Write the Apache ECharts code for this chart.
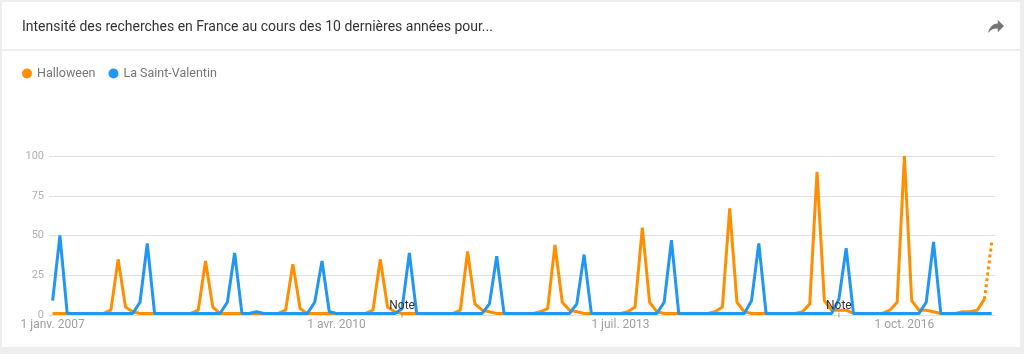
<!DOCTYPE html>
<html><head><meta charset="utf-8">
<script src="https://cdn.jsdelivr.net/npm/echarts@6/dist/echarts.min.js"></script>
<style>html,body{margin:0;padding:0;background:#ffffff;} #c{width:1024px;height:354px;}</style>
</head><body><div id="c"></div>
<script>
// ---- data ----
const monthNames = ['janv.','févr.','mars','avr.','mai','juin','juil.','août','sept.','oct.','nov.','déc.'];
const startYear = 2007;
const halloween = [
  1,1,1,1,1,1,1,1,3,35,5,2,
  1,1,1,1,1,1,1,1,3,34,5,1,
  1,1,1,1,1,1,1,1,3,32,4,1,
  1,1,1,1,1,1,1,1,3,35,5,2,
  1,1,1,1,1,1,1,1,3,40,7,3,
  2,1,1,1,1,1,1,2,4,44,8,3,
  2,1,1,1,1,1,1,2,5,55,8,2,
  1,1,1,1,1,1,1,2,5,67,8,2,
  1,1,1,1,1,1,1,2,7,90,9,3,
  3,3,1,1,1,1,1,3,8,100,9,3,
  3,2,1,1,1,2,2,3,10,46
];
const saintValentin = [
  9,50,1,1,1,1,1,1,1,1,1,1,
  8,45,1,1,1,1,1,1,1,1,1,1,
  8,39,1,1,2,1,1,1,1,1,1,1,
  8,34,2,1,1,1,1,1,1,1,1,1,
  4,39,1,1,1,1,1,1,1,1,1,1,
  7,37,1,1,1,1,1,1,1,1,1,1,
  7,38,1,1,1,1,1,1,1,1,1,1,
  8,47,1,1,1,1,1,1,1,1,1,1,
  9,45,1,1,1,1,1,1,1,1,1,1,
  10,42,1,1,1,1,1,1,1,1,1,1,
  8,46,1,1,1,1,1,1,1,1
];
const xTickLabels = ['1 janv. 2007','1 avr. 2010','1 juil. 2013','1 oct. 2016'];
const noteDates = ['1 janv. 2011','1 janv. 2016'];
const seriesNames = ['Halloween','La Saint-Valentin'];
const colors = ['#FF8F00','#2196F3'];

const categories = halloween.map((_, i) =>
  '1 ' + monthNames[i % 12] + ' ' + (startYear + Math.floor(i / 12)));
const last = halloween.length - 1;
const hallSolid = halloween.map((v, i) => i < last ? v : null);
const hallPartial = halloween.map((v, i) => i >= last - 1 ? v : null);

// share icon outline (24px icon units), scaled into the header
const iconPts = [[14,9],[14,5],[21,12],[14,19],[14,14.9],[10,15.1],[6.5,16.6],[3,20],[4.4,15.6],[7.3,11.6],[10.3,9.6],[14,9]];
const iconShape = iconPts.map(p => [988 + (p[0] - 3) * 16 / 18, 20 + (p[1] - 5) * 13 / 15]);

const chart = echarts.init(document.getElementById('c'), null, {renderer: 'canvas'});
const font = 'Roboto, "Noto Sans", sans-serif';
chart.setOption({
  animation: false,
  backgroundColor: '#ffffff',
  textStyle: {fontFamily: font},
  title: {
    text: 'Intensité des recherches en France au cours des 10 dernières années pour...',
    left: 22, top: 18, padding: 0,
    textStyle: {fontSize: 14, fontWeight: 'normal', color: '#333333', fontFamily: font, lineHeight: 18}
  },
  legend: {
    left: 22, top: 67, padding: 0, itemWidth: 10, itemHeight: 10, itemGap: 13,
    icon: 'circle',
    data: seriesNames,
    textStyle: {fontSize: 12.5, color: '#757575', fontFamily: font}
  },
  graphic: [
    {type: 'rect', shape: {x: 0, y: 0, width: 1024, height: 2}, style: {fill: '#eeeeee'}, silent: true},
    {type: 'rect', shape: {x: 0, y: 0, width: 2, height: 354}, style: {fill: '#eeeeee'}, silent: true},
    {type: 'rect', shape: {x: 1020, y: 0, width: 4, height: 354}, style: {fill: '#eeeeee'}, silent: true},
    {type: 'rect', shape: {x: 0, y: 347, width: 1024, height: 7}, style: {fill: '#eeeeee'}, silent: true},
    {type: 'rect', shape: {x: 0, y: 49, width: 1024, height: 2}, style: {fill: '#eeeeee'}, silent: true},
    {type: 'polygon', shape: {points: iconShape}, style: {fill: '#757575'}, silent: true}
  ],
  grid: {left: 49, right: 28.6, top: 156, bottom: 39, containLabel: false},
  xAxis: {
    type: 'category', data: categories, boundaryGap: true,
    axisLine: {show: false}, axisTick: {show: false},
    axisLabel: {
      interval: (i, v) => xTickLabels.indexOf(v) >= 0,
      color: '#9e9e9e', fontSize: 12, margin: 4, fontFamily: font
    },
    splitLine: {show: false}
  },
  yAxis: {
    type: 'value', min: 0, max: 100, interval: 25,
    axisLine: {show: false}, axisTick: {show: false},
    axisLabel: {color: '#b0b0b0', fontSize: 11, margin: 5, fontFamily: font},
    splitLine: {lineStyle: {color: '#e0e0e0', width: 1}}
  },
  series: [
    {name: seriesNames[0], type: 'line', data: hallSolid, showSymbol: false, symbol: 'none',
      lineStyle: {color: colors[0], width: 3}, itemStyle: {color: colors[0]}, z: 2},
    {name: seriesNames[0], type: 'line', data: hallPartial, showSymbol: false, symbol: 'none',
      lineStyle: {color: colors[0], width: 3, type: [3, 3]}, itemStyle: {color: colors[0]}, z: 2},
    {name: seriesNames[1], type: 'line', data: saintValentin, showSymbol: false, symbol: 'none',
      lineStyle: {color: colors[1], width: 3}, itemStyle: {color: colors[1]}, z: 3,
      markPoint: {
        symbol: 'rect', symbolSize: [1, 5], silent: true,
        itemStyle: {color: '#9e9e9e'},
        label: {show: true, position: 'top', distance: 1, formatter: 'Note', color: '#333333', fontSize: 12, fontFamily: font},
        data: noteDates.map(d => ({coord: [d, 0]})),
        z: 10
      }}
  ]
});
</script>
</body></html>
